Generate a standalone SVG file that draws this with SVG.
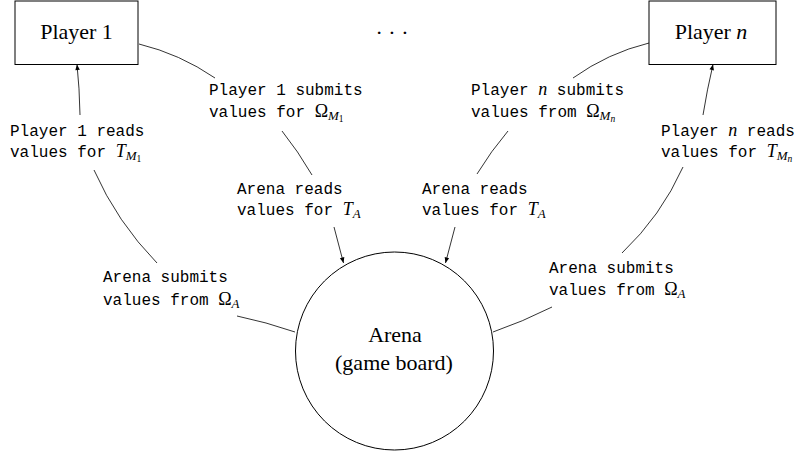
<svg xmlns="http://www.w3.org/2000/svg" width="801" height="456" viewBox="0 0 801 456">
<style>
.box{fill:#fff;stroke:#000;stroke-width:1}
.nt{font-family:"Liberation Serif",serif;font-size:22px;fill:#000}
.m{font-family:"Liberation Mono",monospace;font-size:16px;fill:#000}
.mi{font-family:"Liberation Serif",serif;font-style:italic;font-size:18px}
.mu{font-family:"Liberation Serif",serif;font-size:18px}
.s1{font-family:"Liberation Serif",serif;font-style:italic;font-size:13px}
.s2{font-family:"Liberation Serif",serif;font-size:9.5px}
.c{fill:none;stroke:#000;stroke-width:0.8}
</style>
<defs>
<marker id="ah" markerUnits="userSpaceOnUse" markerWidth="8" markerHeight="8" viewBox="-1 -4 8 8" refX="5.5" refY="0" orient="auto">
<path d="M0,-2.3 L5.5,0 L0,2.3 Z" fill="#000"/>
</marker>
</defs>
<g id="player1">
<rect class="box" x="15" y="1" width="123" height="63.5"/>
<text class="nt" x="76.5" y="39" text-anchor="middle">Player 1</text>
</g>
<g id="playern">
<rect class="box" x="649" y="1" width="127" height="63.5"/>
<text class="nt" x="711" y="39" text-anchor="middle">Player <tspan font-style="italic">n</tspan></text>
</g>
<g id="dots">
<text class="nt" x="392" y="40" text-anchor="middle" font-size="20">· · ·</text>
</g>
<g id="arena">
<circle class="box" cx="394.5" cy="351" r="99"/>
<text class="nt" x="395" y="342" text-anchor="middle" font-size="23">Arena</text>
<text class="nt" x="394" y="370" text-anchor="middle" font-size="23">(game board)</text>
</g>
<g id="labels">
<g id="l-p1-reads">
<text class="m" x="10" y="136">Player 1 reads</text>
<text class="m" x="10" y="157">values for <tspan class="mi">T</tspan><tspan class="s1" dy="3">M</tspan><tspan class="s2" dy="2">1</tspan></text>
</g>
<g id="l-p1-submits">
<text class="m" x="209" y="95">Player 1 submits</text>
<text class="m" x="209" y="117">values for <tspan class="mu">Ω</tspan><tspan class="s1" dy="3">M</tspan><tspan class="s2" dy="2">1</tspan></text>
</g>
<g id="l-arena-reads-1">
<text class="m" x="237" y="194">Arena reads</text>
<text class="m" x="237" y="215">values for <tspan class="mi">T</tspan><tspan class="s1" dy="3">A</tspan></text>
</g>
<g id="l-arena-submits-1">
<text class="m" x="103" y="282">Arena submits</text>
<text class="m" x="103" y="305">values from <tspan class="mu">Ω</tspan><tspan class="s1" dy="3">A</tspan></text>
</g>
<g id="l-pn-submits">
<text class="m" x="471" y="95">Player <tspan class="mi">n</tspan> submits</text>
<text class="m" x="471" y="117">values from <tspan class="mu">Ω</tspan><tspan class="s1" dy="3">M</tspan><tspan class="s2" dy="2" font-style="italic">n</tspan></text>
</g>
<g id="l-pn-reads">
<text class="m" x="661" y="136">Player <tspan class="mi">n</tspan> reads</text>
<text class="m" x="661" y="157">values for <tspan class="mi">T</tspan><tspan class="s1" dy="3">M</tspan><tspan class="s2" dy="2" font-style="italic">n</tspan></text>
</g>
<g id="l-arena-reads-n">
<text class="m" x="422" y="194">Arena reads</text>
<text class="m" x="422" y="215">values for <tspan class="mi">T</tspan><tspan class="s1" dy="3">A</tspan></text>
</g>
<g id="l-arena-submits-n">
<text class="m" x="549" y="273">Arena submits</text>
<text class="m" x="549" y="295">values from <tspan class="mu">Ω</tspan><tspan class="s1" dy="3">A</tspan></text>
</g>
</g>
<g id="connectors">
<path class="c" d="M80,115 Q79.5,88 77,64.5" marker-end="url(#ah)"/>
<path class="c" d="M157,263 Q117,222 94,170"/>
<path class="c" d="M295,332 Q266,322 237,316"/>
<path class="c" d="M139,44 Q180,54 215,78"/>
<path class="c" d="M282,131 Q298,151 312,175"/>
<path class="c" d="M334,227 L343.5,263" marker-end="url(#ah)"/>
<path class="c" d="M649,43 Q608,53 573,78"/>
<path class="c" d="M508,131 Q491,151 477,174"/>
<path class="c" d="M455,227 L445.5,263" marker-end="url(#ah)"/>
<path class="c" d="M703,115 Q707,90 713,64.5" marker-end="url(#ah)"/>
<path class="c" d="M622,253 Q661,216 683,167"/>
<path class="c" d="M493,332 Q522,322 552,307"/>
</g>
</svg>
